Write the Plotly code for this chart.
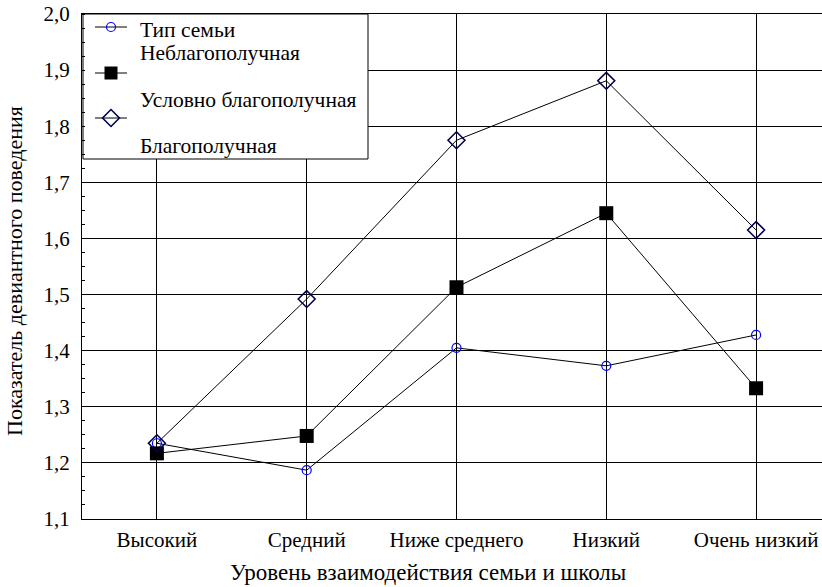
import plotly.graph_objects as go

# ---- data ----
categories = ["Высокий", "Средний", "Ниже среднего", "Низкий", "Очень низкий"]
s_circle = [1.235, 1.187, 1.405, 1.373, 1.428]
s_square = [1.217, 1.248, 1.513, 1.645, 1.333]
s_diamond = [1.235, 1.492, 1.775, 1.881, 1.615]
legend_lines = ["Тип семьи", "Неблагополучная", "Условно благополучная", "Благополучная"]
yticks = [1.1, 1.2, 1.3, 1.4, 1.5, 1.6, 1.7, 1.8, 1.9, 2.0]
yticklabels = ["1,1", "1,2", "1,3", "1,4", "1,5", "1,6", "1,7", "1,8", "1,9", "2,0"]
x_title = "Уровень взаимодействия семьи и школы"
y_title = "Показатель девиантного поведения"

# ---- layout geometry (pixels) ----
W, H = 822, 587
L, R, T, B = 82, 822, 14, 519
FONT = "Liberation Serif"


def px(x):
    return (x - L) / (R - L)


def py(y):
    return (B - y) / (B - T)


xs = list(range(len(categories)))
fig = go.Figure()
line = dict(color="black", width=1)
circle_m = dict(symbol="circle-open", size=9, color="#0000ff", line=dict(width=1.2))
square_m = dict(symbol="square", size=14, color="black")
diamond_m = dict(symbol="diamond-open", size=13, color="#000050", line=dict(width=1.6))

fig.add_trace(go.Scatter(x=xs, y=s_circle, mode="lines+markers", line=line, marker=circle_m, showlegend=False))
fig.add_trace(go.Scatter(x=xs, y=s_square, mode="lines+markers", line=line, marker=square_m, showlegend=False))
fig.add_trace(go.Scatter(x=xs, y=s_diamond, mode="lines+markers", line=line, marker=diamond_m, showlegend=False))

# ---- manual legend on a pixel-space overlay axis ----
box = dict(x0=83, x1=368, y0=14, y1=159)
fig.add_trace(go.Scatter(x=[box["x0"], box["x1"], box["x1"], box["x0"], box["x0"]],
                         y=[box["y0"], box["y0"], box["y1"], box["y1"], box["y0"]],
                         mode="lines", fill="toself", fillcolor="white", line=dict(color="black", width=1),
                         xaxis="x2", yaxis="y2", showlegend=False, hoverinfo="skip"))
glyphs = [(27, circle_m), (73, square_m), (118, diamond_m)]
for gy, m in glyphs:
    fig.add_trace(go.Scatter(x=[95, 111, 127], y=[gy, gy, gy], mode="lines", line=line,
                             xaxis="x2", yaxis="y2", showlegend=False, hoverinfo="skip"))
    mm = dict(m)
    if mm["symbol"] == "square":
        mm["size"] = 13
    fig.add_trace(go.Scatter(x=[111], y=[gy], mode="markers", marker=mm,
                             xaxis="x2", yaxis="y2", showlegend=False, hoverinfo="skip"))
text_y = [30, 53, 100, 146]
for t, ty in zip(legend_lines, text_y):
    fig.add_annotation(x=px(142), y=py(ty), xref="paper", yref="paper", text=t, showarrow=False,
                       xanchor="left", yanchor="middle", xshift=-3, borderpad=0,
                       font=dict(family=FONT, size=21.5, color="black"))

# ---- axis titles ----
fig.add_annotation(x=px(428), y=py(572), xref="paper", yref="paper", text=x_title, showarrow=False,
                   xanchor="center", yanchor="middle", borderpad=0,
                   font=dict(family=FONT, size=23, color="black"))
fig.add_annotation(x=px(14), y=py(271), xref="paper", yref="paper", text=y_title, showarrow=False,
                   textangle=-90, xanchor="center", yanchor="middle", borderpad=0,
                   font=dict(family=FONT, size=22, color="black"))

fig.update_layout(
    width=W, height=H,
    margin=dict(l=L, r=W - R, t=T, b=H - B),
    paper_bgcolor="white", plot_bgcolor="white",
    font=dict(family=FONT, size=21, color="black"),
    showlegend=False,
    xaxis=dict(range=[-0.5, 4.44], tickmode="array", tickvals=xs, ticktext=categories,
               showgrid=True, gridcolor="black", gridwidth=1, zeroline=False,
               showline=True, linecolor="black", linewidth=1, mirror=True,
               ticks="", ticklabelstandoff=2, tickfont=dict(family=FONT, size=21)),
    yaxis=dict(range=[1.1, 2.0], tickmode="array", tickvals=yticks, ticktext=yticklabels,
               showgrid=True, gridcolor="black", gridwidth=1, zeroline=False,
               showline=True, linecolor="black", linewidth=1,
               ticks="", ticklabelstandoff=7,
               minor=dict(dtick=0.025, ticks="inside", ticklen=3, tickcolor="black", showgrid=False),
               tickfont=dict(family=FONT, size=21)),
    xaxis2=dict(overlaying="x", range=[L, R], visible=False, showgrid=False, zeroline=False),
    yaxis2=dict(overlaying="y", range=[B, T], visible=False, showgrid=False, zeroline=False),
)
fig.write_html("out.html", config={"displayModeBar": False},
               post_script="document.body.style.margin='0';document.body.style.overflow='hidden';")
